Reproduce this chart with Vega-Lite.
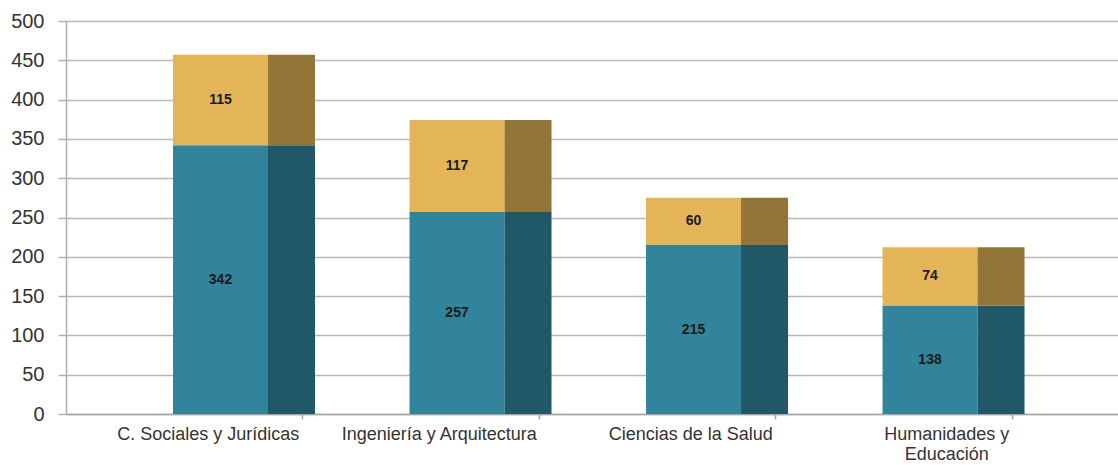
{
  "$schema": "https://vega.github.io/schema/vega-lite/v6.json",
  "autosize": "none",
  "padding": {"left": 66, "top": 21, "right": 0, "bottom": 51},
  "width": 1052,
  "height": 393,
  "background": "white",
  "config": {"view": {"stroke": null}},
  "data": {"values": [
    {"category": "C. Sociales y Jurídicas", "seg": 1, "value": 342},
    {"category": "C. Sociales y Jurídicas", "seg": 2, "value": 115},
    {"category": "Ingeniería y Arquitectura", "seg": 1, "value": 257},
    {"category": "Ingeniería y Arquitectura", "seg": 2, "value": 117},
    {"category": "Ciencias de la Salud", "seg": 1, "value": 215},
    {"category": "Ciencias de la Salud", "seg": 2, "value": 60},
    {"category": "Humanidades y Educación", "seg": 1, "value": 138},
    {"category": "Humanidades y Educación", "seg": 2, "value": 74}
  ]},
  "transform": [
    {"stack": "value", "groupby": ["category"], "sort": [{"field": "seg"}], "as": ["v0", "v1"]}
  ],
  "encoding": {
    "x": {
      "field": "category", "type": "nominal", "sort": null,
      "scale": {"paddingInner": 0, "paddingOuter": 0.224, "align": 0},
      "axis": {
        "title": null, "labelAngle": 0, "bandPosition": 1,
        "labelFont": "Liberation Sans", "labelFontSize": 18, "labelColor": "#333333",
        "labelAlign": "center", "labelBaseline": "top", "labelPadding": 6,
        "labelLineHeight": 20, "labelLimit": 0,
        "labelExpr": "datum.value == 'Humanidades y Educación' ? ['Humanidades y', 'Educación'] : datum.value",
        "labelOffset": {"condition": [
          {"test": "datum.value == 'C. Sociales y Jurídicas'", "value": 24},
          {"test": "datum.value == 'Ingeniería y Arquitectura'", "value": 18.5},
          {"test": "datum.value == 'Ciencias de la Salud'", "value": 33.5}
        ], "value": 53},
        "domainColor": "#a6a6a6", "domainWidth": 1.5,
        "tickColor": "#a6a6a6", "tickSize": 5, "tickWidth": 1.5,
        "grid": false
      }
    },
    "y": {
      "field": "v1", "type": "quantitative",
      "scale": {"domain": [0, 500], "nice": false},
      "axis": {
        "title": null, "values": [0, 50, 100, 150, 200, 250, 300, 350, 400, 450, 500],
        "labelFont": "Liberation Sans", "labelFontSize": 20, "labelColor": "#333333",
        "labelPadding": 14, "tickSize": 8, "tickColor": "#b0b0b0", "tickWidth": 1.5,
        "domainColor": "#b0b0b0", "domainWidth": 1.5,
        "grid": true, "gridColor": "#b8b8b8", "gridWidth": 1.5
      }
    }
  },
  "layer": [
    {
      "mark": {"type": "bar", "width": 95, "xOffset": 36.25},
      "encoding": {
        "y2": {"field": "v0"},
        "color": {"field": "seg", "type": "nominal", "legend": null,
          "scale": {"domain": [1, 2], "range": ["#31849b", "#e4b459"]}}
      }
    },
    {
      "mark": {"type": "bar", "width": 47, "xOffset": 107.25},
      "encoding": {
        "y2": {"field": "v0"},
        "color": {"field": "seg", "type": "nominal", "legend": null,
          "scale": {"domain": [1, 2], "range": ["#215867", "#937537"]}}
      }
    },
    {
      "transform": [{"calculate": "(datum.v0 + datum.v1) / 2", "as": "mid"}],
      "mark": {"type": "text", "xOffset": 36.25, "font": "Liberation Sans", "fontWeight": "bold", "fontSize": 14, "color": "#1a1a1a", "baseline": "middle"},
      "encoding": {
        "y": {"field": "mid", "type": "quantitative"},
        "text": {"field": "value", "type": "quantitative"}
      }
    }
  ],
  "resolve": {"scale": {"color": "independent"}}
}
